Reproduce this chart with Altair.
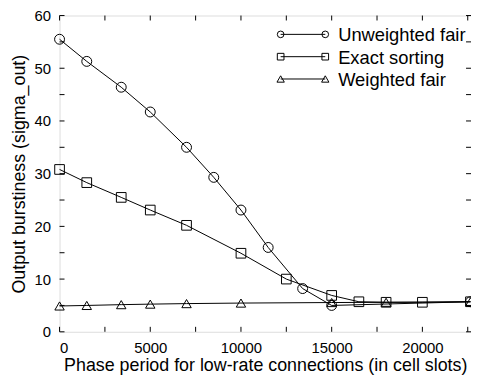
import altair as alt
import pandas as pd

# ---- data ----
unw_x = [0, 1500, 3400, 5000, 7000, 8500, 10000, 11500, 13400, 15000, 22650]
unw_y = [55.5, 51.3, 46.4, 41.7, 35.0, 29.3, 23.1, 16.0, 8.2, 5.0, 5.7]

exa_x = [0, 1500, 3400, 5000, 7000, 10000, 12500, 15000, 16500, 18000, 20000, 22650]
exa_y = [30.8, 28.3, 25.5, 23.1, 20.2, 14.9, 10.0, 6.9, 5.7, 5.6, 5.6, 5.7]

wgt_x = [0, 1500, 3400, 5000, 7000, 10000, 15000, 18000, 22650]
wgt_y = [4.9, 5.0, 5.15, 5.25, 5.35, 5.45, 5.55, 5.6, 5.7]

series_names = ["Unweighted fair", "Exact sorting", "Weighted fair"]
series_shapes = ["circle", "square", "triangle-up"]

x_tick_labels = [0, 5000, 10000, 15000, 20000]
y_tick_labels = [0, 10, 20, 30, 40, 50, 60]
x_minor = [0, 2500, 5000, 7500, 10000, 12500, 15000, 17500, 20000, 22500]
y_minor = [0, 5, 10, 15, 20, 25, 30, 35, 40, 45, 50, 55, 60]

X_MAX = 22680
W, H = 415, 319
FONT = "Liberation Sans"

rows = []
for name, xs, ys in [(series_names[0], unw_x, unw_y),
                     (series_names[1], exa_x, exa_y),
                     (series_names[2], wgt_x, wgt_y)]:
    for i, (a, b) in enumerate(zip(xs, ys)):
        rows.append({"series": name, "x": a, "y": b, "order": i})
df = pd.DataFrame(rows)

xscale = alt.Scale(domain=[0, X_MAX], nice=False, zero=False)
yscale = alt.Scale(domain=[0, 60], nice=False)

xaxis = alt.Axis(values=x_tick_labels, tickSize=0, domain=False, grid=False,
                 labelFontSize=15, labelFont=FONT, labelColor="black", labelPadding=9,
                 title="Phase period for low-rate connections (in cell slots)",
                 titleFontSize=18, titleFont=FONT, titleFontWeight="normal",
                 titleColor="black", titlePadding=1, format="d")
yaxis = alt.Axis(values=y_tick_labels, tickSize=0, domain=False, grid=False,
                 labelFontSize=15, labelFont=FONT, labelColor="black", labelPadding=9,
                 title="Output burstiness (sigma_out)",
                 titleFontSize=18, titleFont=FONT, titleFontWeight="normal",
                 titleColor="black", titlePadding=6)

base = alt.Chart(df)
shape_scale = alt.Scale(domain=series_names, range=series_shapes)

lines = base.mark_line(color="black", strokeWidth=1).encode(
    x=alt.X("x:Q", scale=xscale, axis=xaxis),
    y=alt.Y("y:Q", scale=yscale, axis=yaxis),
    detail="series:N",
    order="order:Q",
)

size_scale = alt.Scale(domain=series_names, range=[100, 90, 110])
points = base.mark_point(color="black", filled=False, strokeWidth=1, opacity=1).encode(
    x=alt.X("x:Q", scale=xscale),
    y=alt.Y("y:Q", scale=yscale),
    shape=alt.Shape("series:N", scale=shape_scale, legend=None),
    size=alt.Size("series:N", scale=size_scale, legend=None),
)

# inward ticks on all four sides
xt = pd.DataFrame({"t": x_minor})
yt = pd.DataFrame({"t": y_minor})
TL = 5
tick_b = alt.Chart(xt).mark_rule(color="black", strokeWidth=1).encode(
    x=alt.X("t:Q", scale=xscale), y=alt.value(H), y2=alt.value(H - TL))
tick_t = alt.Chart(xt).mark_rule(color="black", strokeWidth=1).encode(
    x=alt.X("t:Q", scale=xscale), y=alt.value(0), y2=alt.value(TL))
tick_l = alt.Chart(yt).mark_rule(color="black", strokeWidth=1).encode(
    y=alt.Y("t:Q", scale=yscale), x=alt.value(0), x2=alt.value(TL))
tick_r = alt.Chart(yt).mark_rule(color="black", strokeWidth=1).encode(
    y=alt.Y("t:Q", scale=yscale), x=alt.value(W), x2=alt.value(W - TL))

# manual legend (line with a marker at each end)
leg_y = [19, 41.5, 64]
legend_layers = []
for name, shp, ly, sz in zip(series_names, series_shapes, leg_y, [45, 45, 55]):
    d = alt.Chart(pd.DataFrame({"series": [name]}))
    legend_layers.append(d.mark_rule(color="black", strokeWidth=1).encode(
        x=alt.value(223), x2=alt.value(268), y=alt.value(ly)))
    for lx in (223, 268):
        legend_layers.append(d.mark_point(shape=shp, color="black", filled=False,
                                          strokeWidth=1, size=sz, opacity=1).encode(
            x=alt.value(lx), y=alt.value(ly)))
    legend_layers.append(d.mark_text(align="left", baseline="middle", font=FONT,
                                     fontSize=18.5, color="black").encode(
        x=alt.value(281), y=alt.value(ly + 1), text="series:N"))

chart = alt.layer(lines, points, tick_b, tick_t, tick_l, tick_r, *legend_layers).properties(
    width=W, height=H,
    padding={"left": 52, "top": 6, "right": 0, "bottom": 45},
    autosize=alt.AutoSizeParams(type="none"),
).configure_view(stroke="black", strokeWidth=1).configure(background="white")

chart.save("out.html", embed_options={"renderer": "svg", "actions": False})
